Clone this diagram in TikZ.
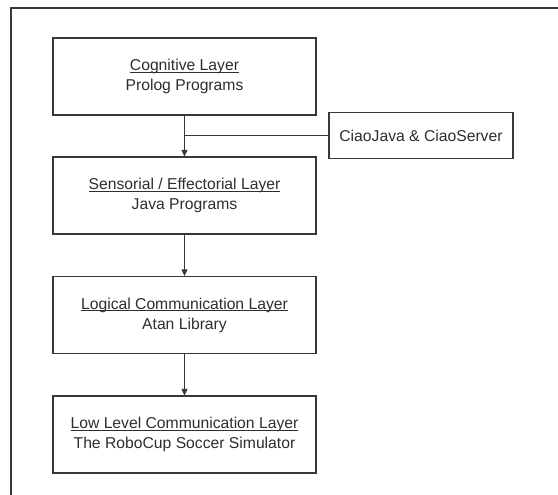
\documentclass[tikz,border=0pt]{standalone}
\usepackage{fontspec}
\setmainfont{Liberation Sans}
\usetikzlibrary{arrows.meta}
\definecolor{inkc}{HTML}{2E2E2E}
\definecolor{linec}{HTML}{383838}
\newcommand{\myul}[1]{{\setbox0\hbox{#1}\rlap{\rule[-2.2pt]{\wd0}{0.9pt}}\box0}}
\begin{document}
\begin{tikzpicture}[x=1pt,y=-1pt,
  layerbox/.style={draw=linec, line width=1.2pt, minimum width=263pt, minimum height=77pt,
    align=center, text=inkc, inner sep=0pt, font=\fontsize{15.7}{20}\selectfont},
  sidebox/.style={draw=linec, line width=1.2pt, minimum width=184pt, minimum height=46pt,
    text=inkc, inner sep=0pt, font=\fontsize{15.7}{20}\selectfont},
  conn/.style={draw=linec, line width=1.1pt},
  arr/.style={conn, -{Triangle[length=6.5pt,width=6pt]}}]
\useasboundingbox (0,0) rectangle (558,495);
\fill[white] (0,0) rectangle (558,495);
\draw[linec, line width=1.2pt] (11,495) -- (11,8) -- (558,8);
\node[layerbox] (cog) at (184.5,76.5) {\myul{Cognitive Layer}\\Prolog Programs};
\node[layerbox] (sens) at (184.5,195.5) {\myul{Sensorial / Effectorial Layer}\\Java Programs};
\node[layerbox] (logic) at (184.5,315) {\myul{Logical Communication Layer}\\Atan Library};
\node[layerbox] (low) at (184.5,434.5) {\myul{Low Level Communication Layer}\\The RoboCup Soccer Simulator};
\node[sidebox] (ciao) at (421,135.5) {CiaoJava \& CiaoServer};
\coordinate (join) at (ciao.west -| cog.south);
\draw[arr] (cog.south) -- (sens.north);
\draw[conn] (ciao.west) -- (join);
\draw[arr] (sens.south) -- (logic.north);
\draw[arr] (logic.south) -- (low.north);
\end{tikzpicture}
\end{document}
